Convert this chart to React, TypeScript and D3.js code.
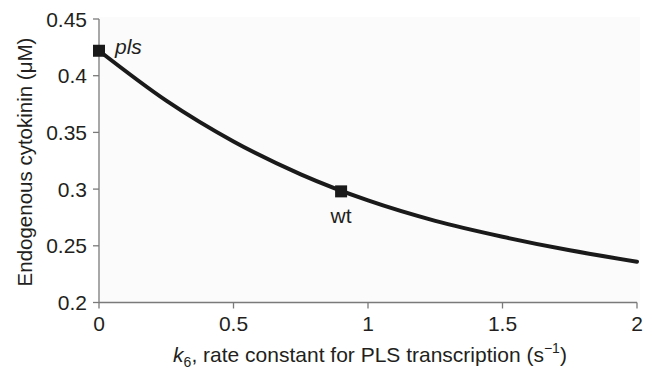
import React from "react";
import * as d3 from "d3";

const kValues = [0, 0.25, 0.5, 0.75, 1.0, 1.25, 1.5, 1.75, 2.0];
const cytokinin = [0.422, 0.378, 0.342, 0.313, 0.29, 0.272, 0.258, 0.246, 0.236];
const markerLabels = ["pls", "wt"];
const markerK = [0, 0.9];
const markerY = [0.422, 0.298];
const xTicks = [0, 0.5, 1, 1.5, 2];
const yTicks = [0.2, 0.25, 0.3, 0.35, 0.4, 0.45];

const W = 652, H = 372;
const left = 99, right = 637, top = 19, bottom = 302.5;
const FONT = "'Liberation Sans', Arial, Helvetica, sans-serif";
const FS = 21;

export default function App() {
  const x = d3.scaleLinear().domain([0, 2]).range([left, right]);
  const y = d3.scaleLinear().domain([0.2, 0.45]).range([bottom, top]);
  const pts = kValues.map((k, i) => [k, cytokinin[i]] as [number, number]);
  const line = d3
    .line<[number, number]>()
    .x((d) => x(d[0]))
    .y((d) => y(d[1]))
    .curve(d3.curveMonotoneX);
  const axisColor = "#7a7a7a";
  const textColor = "#231f20";
  return (
    <svg
      width={W}
      height={H}
      style={{ position: "absolute", left: 0, top: 0, background: "#fff" }}
      fontFamily={FONT}
    >
      <rect x={left} y={top - 2} width={right - left + 3} height={bottom - top + 2} fill="#fbfbfb" />
      {/* y axis */}
      <line x1={left} x2={left} y1={top} y2={bottom} stroke={axisColor} strokeWidth={1.3} />
      {yTicks.map((t) => (
        <g key={"y" + t}>
          <line x1={left - 6} x2={left} y1={y(t)} y2={y(t)} stroke={axisColor} strokeWidth={1.3} />
          <text x={left - 12} y={y(t) + 7.5} textAnchor="end" fontSize={FS} fill={textColor}>
            {String(t)}
          </text>
        </g>
      ))}
      {/* x axis */}
      <line x1={left} x2={right} y1={bottom} y2={bottom} stroke={axisColor} strokeWidth={1.3} />
      {xTicks.map((t) => (
        <g key={"x" + t}>
          <line x1={x(t)} x2={x(t)} y1={bottom} y2={bottom + 6} stroke={axisColor} strokeWidth={1.3} />
          <text x={x(t)} y={bottom + 28} textAnchor="middle" fontSize={FS} fill={textColor}>
            {String(t)}
          </text>
        </g>
      ))}
      {/* curve */}
      <path d={line(pts) || ""} fill="none" stroke="#1a1a1a" strokeWidth={4} strokeLinecap="round" />
      {markerK.map((k, i) => (
        <rect
          key={"m" + i}
          x={x(k) - 6}
          y={y(markerY[i]) - 6}
          width={12}
          height={12}
          fill="#1a1a1a"
        />
      ))}
      <text x={x(markerK[0]) + 16} y={y(markerY[0]) + 3} fontSize={FS} fontStyle="italic" fill={textColor}>
        {markerLabels[0]}
      </text>
      <text x={x(markerK[1])} y={y(markerY[1]) + 32} textAnchor="middle" fontSize={FS} fill={textColor}>
        {markerLabels[1]}
      </text>
      {/* axis titles */}
      <text x={370} y={362} textAnchor="middle" fontSize={FS} fill={textColor}>
        <tspan fontStyle="italic">k</tspan>
        <tspan fontSize={14} dy={5}>6</tspan>
        <tspan dy={-5}>, rate constant for PLS transcription (s</tspan>
        <tspan fontSize={14} dy={-9}>−1</tspan>
        <tspan dy={9}>)</tspan>
      </text>
      <text
        transform={`translate(32, 162) rotate(-90)`}
        textAnchor="middle"
        fontSize={20.5}
        fill={textColor}
      >
        Endogenous cytokinin (μM)
      </text>
    </svg>
  );
}
